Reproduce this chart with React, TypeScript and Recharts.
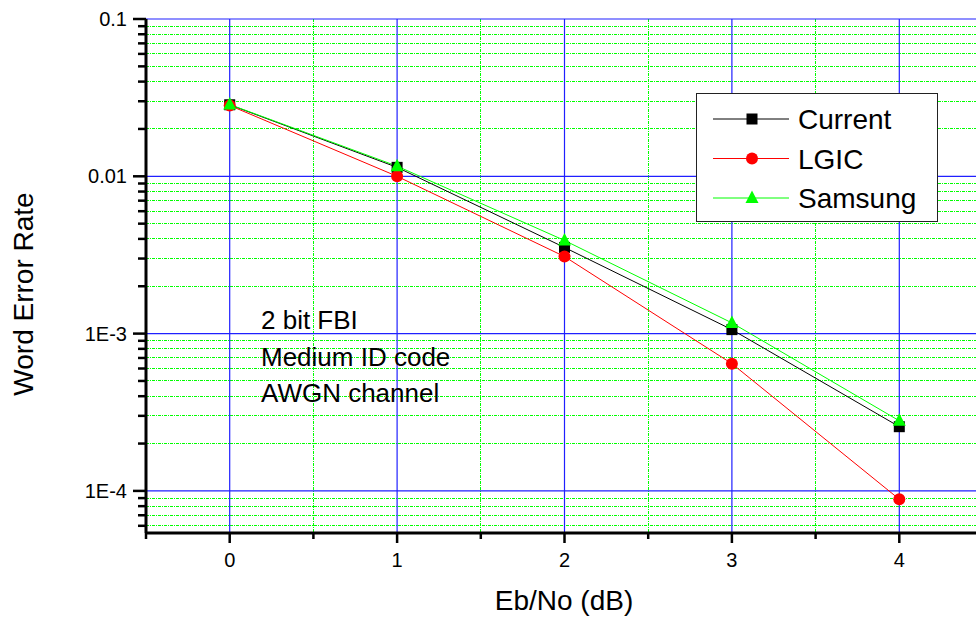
import {
  LineChart,
  Line,
  XAxis,
  YAxis,
  CartesianGrid,
  Legend
} from 'recharts';

// Eb/No (dB)
const ebno = [0, 1, 2, 3, 4];
// word error rate per scheme
const current = [0.0285, 0.0114, 0.00353, 0.00106, 0.000256];
const lgic = [0.0282, 0.0100, 0.00309, 0.000644, 0.0000885];
const samsung = [0.0286, 0.0116, 0.00391, 0.00117, 0.000279];

const xMajor = [0, 1, 2, 3, 4];
const xMinor = [-0.5, 0.5, 1.5, 2.5, 3.5, 4.5];
const yMajor = [0.0001, 0.001, 0.01, 0.1];
const yMinor = [
  0.00006, 0.00007, 0.00008, 0.00009,
  0.0002, 0.0003, 0.0004, 0.0005, 0.0006, 0.0007, 0.0008, 0.0009,
  0.002, 0.003, 0.004, 0.005, 0.006, 0.007, 0.008, 0.009,
  0.02, 0.03, 0.04, 0.05, 0.06, 0.07, 0.08, 0.09
];
const yLabels: Record<string, string> = {
  '0.1': '0.1',
  '0.01': '0.01',
  '0.001': '1E-3',
  '0.0001': '1E-4'
};
const notes = ['2 bit FBI', 'Medium ID code', 'AWGN channel'];

const series = [
  { key: 'current', name: 'Current', color: '#000000', shape: 'square' },
  { key: 'lgic', name: 'LGIC', color: '#ff0000', shape: 'circle' },
  { key: 'samsung', name: 'Samsung', color: '#00ff00', shape: 'triangle' }
];

const data = ebno.map((x, i) => ({
  x,
  current: current[i],
  lgic: lgic[i],
  samsung: samsung[i]
}));

const FONT = 'Arial, "Liberation Sans", sans-serif';

const isMajorY = (v: number) => yMajor.some(m => Math.abs(m - v) / m < 1e-6);
const isMajorX = (v: number) => xMajor.includes(v);

const Marker = ({ shape, cx, cy, color }: any) => {
  if (shape === 'square') {
    return <rect x={cx - 5.5} y={cy - 5.5} width={11} height={11} fill={color} />;
  }
  if (shape === 'circle') {
    return <circle cx={cx} cy={cy} r={6} fill={color} />;
  }
  return (
    <polygon
      points={`${cx},${cy - 7.5} ${cx - 6.5},${cy + 5} ${cx + 6.5},${cy + 5}`}
      fill={color}
    />
  );
};

// tick marks are drawn by hand so majors and minors can differ in length
const BottomTick = ({ x, y, payload }: any) => {
  const major = isMajorX(payload.value);
  return (
    <g>
      <line x1={x} x2={x} y1={y} y2={Number(y) + (major ? 10 : 6)} stroke="#000" strokeWidth={2.5} />
      {major && (
        <text x={x} y={Number(y) + 34} textAnchor="middle" fontSize={20} fontFamily={FONT} fill="#000">
          {payload.value}
        </text>
      )}
    </g>
  );
};

const TopTick = ({ x, y, payload }: any) => {
  const major = isMajorX(payload.value);
  return <line x1={x} x2={x} y1={y} y2={Number(y) + (major ? 12 : 6)} stroke="#000" strokeWidth={2.5} />;
};

const LeftTick = ({ x, y, payload }: any) => {
  const major = isMajorY(payload.value);
  const label = yLabels[String(payload.value)];
  return (
    <g>
      <line x1={Number(x) - (major ? 13 : 8)} x2={x} y1={y} y2={y} stroke="#000" strokeWidth={2.5} />
      {major && label && (
        <text x={Number(x) - 19} y={Number(y) + 7} textAnchor="end" fontSize={20} fontFamily={FONT} fill="#000">
          {label}
        </text>
      )}
    </g>
  );
};

const RightTick = ({ x, y, payload }: any) => {
  const major = isMajorY(payload.value);
  return <line x1={Number(x) - (major ? 13 : 8)} x2={x} y1={y} y2={y} stroke="#000" strokeWidth={2.5} />;
};

const LegendBox = () => (
  <div
    style={{
      width: 242,
      height: 129,
      boxSizing: 'border-box',
      border: '1.5px solid #222',
      background: '#fff'
    }}
  >
    <svg width={239} height={126}>
      {series.map((s, i) => {
        const cy = 25 + i * 39.5;
        return (
          <g key={s.key}>
            <line x1={16} x2={92} y1={cy} y2={cy} stroke={s.color} strokeWidth={1} />
            <Marker shape={s.shape} cx={55} cy={cy} color={s.color} />
            <text x={101} y={cy + 10} fontSize={28} fontFamily={FONT} fill="#000">
              {s.name}
            </text>
          </g>
        );
      })}
    </svg>
  </div>
);

export default function App() {
  const axisLine = { stroke: '#000', strokeWidth: 3 };
  return (
    <div
      style={{
        position: 'absolute',
        left: 0,
        top: 0,
        width: 976,
        height: 621,
        overflow: 'hidden',
        background: '#fff'
      }}
    >
      <style>{'.recharts-cartesian-grid line[stroke="#00ff00"] { shape-rendering: crispEdges; }'}</style>
      <LineChart width={1000} height={621} data={data} margin={{ top: 19, right: 17, left: 0, bottom: 0 }}>
        <CartesianGrid
          xAxisId="bottom"
          yAxisId="left"
          horizontalValues={yMinor}
          verticalValues={xMinor}
          stroke="#00ff00"
          strokeDasharray="3 1 1 1"
          strokeWidth={1}
        />
        <CartesianGrid
          xAxisId="bottom"
          yAxisId="left"
          horizontalValues={yMajor}
          verticalValues={xMajor}
          stroke="#2020ff"
          strokeWidth={1.2}
        />
        <XAxis
          xAxisId="bottom"
          type="number"
          dataKey="x"
          domain={[-0.5, 4.5]}
          ticks={[...xMinor, ...xMajor].sort((a, b) => a - b)}
          interval={0}
          allowDataOverflow
          height={88}
          tickSize={0}
          tickMargin={0}
          tickLine={false}
          axisLine={axisLine}
          tick={<BottomTick />}
        />
        <XAxis
          xAxisId="top"
          orientation="top"
          type="number"
          dataKey="x"
          domain={[-0.5, 4.5]}
          ticks={[...xMinor, ...xMajor].sort((a, b) => a - b)}
          interval={0}
          allowDataOverflow
          height={0}
          tickSize={0}
          tickMargin={0}
          tickLine={false}
          axisLine={axisLine}
          tick={<TopTick />}
        />
        <YAxis
          yAxisId="left"
          type="number"
          scale="log"
          domain={[0.000054, 0.1]}
          ticks={[...yMinor, ...yMajor].sort((a, b) => a - b)}
          interval={0}
          allowDataOverflow
          width={146}
          tickSize={0}
          tickMargin={0}
          tickLine={false}
          axisLine={axisLine}
          tick={<LeftTick />}
        />
        <YAxis
          yAxisId="right"
          orientation="right"
          type="number"
          scale="log"
          domain={[0.000054, 0.1]}
          ticks={[...yMinor, ...yMajor].sort((a, b) => a - b)}
          interval={0}
          allowDataOverflow
          width={0}
          tickSize={0}
          tickMargin={0}
          tickLine={false}
          axisLine={axisLine}
          tick={<RightTick />}
        />
        {series.map(s => (
          <Line
            key={s.key}
            xAxisId="bottom"
            yAxisId="left"
            type="linear"
            dataKey={s.key}
            name={s.name}
            stroke={s.color}
            strokeWidth={1}
            isAnimationActive={false}
            dot={(p: any) => <Marker key={`${s.key}-${p.index}`} shape={s.shape} cx={p.cx} cy={p.cy} color={s.color} />}
            activeDot={false}
          />
        ))}
        <Legend
          layout="horizontal"
          verticalAlign="middle"
          content={<LegendBox />}
          wrapperStyle={{ position: 'absolute', left: 696, top: 93, width: 242, height: 129 }}
        />
      </LineChart>
      <svg
        width={976}
        height={621}
        style={{ position: 'absolute', left: 0, top: 0, pointerEvents: 'none' }}
      >
        <text
          transform="translate(33,294) rotate(-90)"
          textAnchor="middle"
          fontSize={28}
          fontFamily={FONT}
          fill="#000"
        >
          Word Error Rate
        </text>
        <text x={564} y={610} textAnchor="middle" fontSize={28} fontFamily={FONT} fill="#000">
          Eb/No (dB)
        </text>
        {notes.map((n, i) => (
          <text key={n} x={261} y={329 + i * 36.5} fontSize={26} fontFamily={FONT} fill="#000">
            {n}
          </text>
        ))}
      </svg>
    </div>
  );
}
